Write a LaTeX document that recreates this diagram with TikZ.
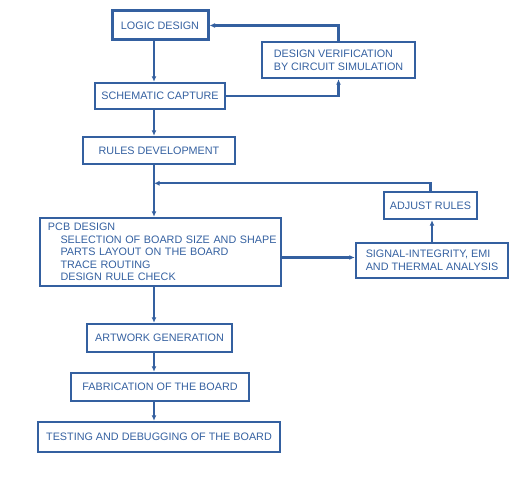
\documentclass[tikz,border=0pt]{standalone}
\usepackage{fontspec}
\setmainfont{Liberation Sans}
\usetikzlibrary{arrows.meta}
\definecolor{fb}{RGB}{52,96,160}
\begin{document}
\begin{tikzpicture}[x=1pt,y=-1pt,
  box/.style={draw=fb,line width=2.4pt,text=fb,inner sep=0pt,font=\fontsize{10.8}{12.6}\selectfont},
  thick box/.style={box,line width=3pt},
  conn/.style={draw=fb,line width=2.4pt,-{Latex[length=5.5pt,width=5pt]}}]
\useasboundingbox (0,0) rectangle (531,484);
\coordinate (sp) at (154,0);
\node[thick box,minimum width=96pt,minimum height=29pt] (logic) at (160,25.5) {LOGIC DESIGN};
\node[box,minimum width=153pt,minimum height=36pt,align=left] (verif) at (338.5,60) {DESIGN VERIFICATION\\BY CIRCUIT SIMULATION};
\node[box,minimum width=130pt,minimum height=26pt] (schem) at (160,96) {SCHEMATIC CAPTURE};
\node[box,minimum width=152pt,minimum height=27pt] (rules) at (159,150.5) {RULES DEVELOPMENT};
\node[box,minimum width=93pt,minimum height=27pt] (adjust) at (430.5,205.5) {ADJUST RULES};
\node[box,text width=235pt,inner xsep=3pt,minimum height=68pt,align=left] (pcb) at (160.5,252) {\hspace*{5pt}PCB DESIGN\\
\hspace*{17.5pt}SELECTION OF BOARD SIZE AND SHAPE\\
\hspace*{17.5pt}PARTS LAYOUT ON THE BOARD\\
\hspace*{17.5pt}TRACE ROUTING\\
\hspace*{17.5pt}DESIGN RULE CHECK};
\node[box,minimum width=152pt,minimum height=35.5pt,align=left] (signal) at (432,260.5) {SIGNAL-INTEGRITY, EMI\\AND THERMAL ANALYSIS};
\node[box,minimum width=145pt,minimum height=28pt] (art) at (159.5,338) {ARTWORK GENERATION};
\node[box,minimum width=178pt,minimum height=28pt] (fab) at (160,387) {FABRICATION OF THE BOARD};
\node[box,minimum width=242pt,minimum height=30pt] (test) at (159,437) {TESTING AND DEBUGGING OF THE BOARD};
\coordinate (fbk) at (154,183.3);
\draw[conn] (logic.south -| sp) -- (schem.north -| sp);
\draw[conn] (schem.east) -| (verif.south);
\draw[conn] (verif.north) |- (logic.east);
\draw[conn] (schem.south -| sp) -- (rules.north -| sp);
\draw[conn] (rules.south -| sp) -- (pcb.north -| sp);
\draw[conn] (adjust.north) |- (fbk);
\draw[conn] ([yshift=-5.5pt]pcb.east) -- ([yshift=-5.5pt]pcb.east -| signal.west);
\draw[conn] (signal.north) -- (signal.north |- adjust.south);
\draw[conn] (pcb.south -| sp) -- (art.north -| sp);
\draw[conn] (art.south -| sp) -- (fab.north -| sp);
\draw[conn] (fab.south -| sp) -- (test.north -| sp);
\end{tikzpicture}
\end{document}
